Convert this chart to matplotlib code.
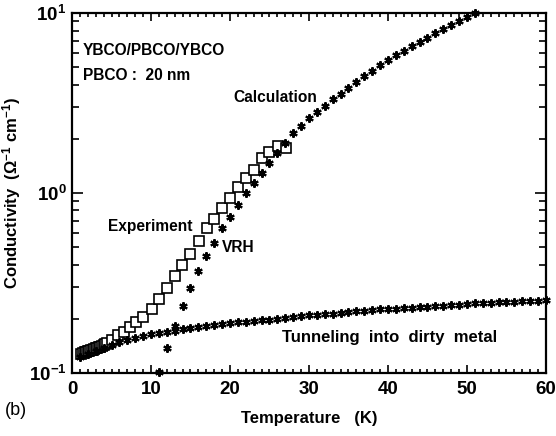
import matplotlib
matplotlib.use("Agg")
import matplotlib.pyplot as plt
from matplotlib.ticker import MultipleLocator, LogLocator, NullFormatter, FixedLocator

plt.rcParams['font.family'] = ['Liberation Sans', 'DejaVu Sans']
plt.rcParams['font.weight'] = 'bold'
plt.rcParams['mathtext.fontset'] = 'custom'
plt.rcParams['mathtext.rm'] = 'Liberation Sans:bold'
plt.rcParams['mathtext.it'] = 'Liberation Sans:bold'
plt.rcParams['mathtext.bf'] = 'Liberation Sans:bold'

# Measured conductivity (open squares)
exp_T = [1.2, 1.4, 1.6, 1.8, 2.0, 2.2, 2.4, 2.6, 2.8, 3.0, 3.2, 3.4, 3.6, 3.8, 4.0, 4.2, 4.4,
         5.1, 5.8, 6.6, 7.3, 8.1, 9.0, 10.1, 11.0, 12.0, 13.0, 13.9, 14.9, 16.1, 17.1,
         18.0, 19.0, 20.0, 21.0, 22.0, 23.0, 24.0, 25.0, 26.1, 27.1]
exp_sigma = [0.128, 0.129, 0.130, 0.131, 0.132, 0.133, 0.134, 0.135, 0.136, 0.137, 0.138,
             0.139, 0.140, 0.142, 0.143, 0.145, 0.147,
             0.153, 0.163, 0.169, 0.180, 0.192, 0.205, 0.227, 0.258, 0.297, 0.346, 0.40,
             0.46, 0.54, 0.64, 0.72, 0.83, 0.94, 1.08, 1.21, 1.34, 1.56, 1.69, 1.82, 1.78]

# Variable-range-hopping calculation
vrh_T = list(range(11, 52))
vrh_sigma = [0.101, 0.138, 0.182, 0.236, 0.297, 0.369, 0.447, 0.53, 0.64, 0.735, 0.857,
             1.0, 1.14, 1.29, 1.47, 1.66, 1.90, 2.16, 2.37, 2.60, 2.82, 3.05, 3.31, 3.57,
             3.85, 4.14, 4.47, 4.79, 5.13, 5.47, 5.82, 6.17, 6.53, 6.92, 7.28, 7.71, 8.13,
             8.57, 9.02, 9.48, 9.95]

# Tunneling into dirty metal calculation
tun_T = list(range(1, 61))
tun_sigma = [0.123, 0.128, 0.133, 0.138, 0.143, 0.149, 0.153, 0.157, 0.161, 0.164,
             0.167, 0.169, 0.172, 0.176, 0.178, 0.180, 0.182, 0.185, 0.187, 0.190,
             0.191, 0.192, 0.195, 0.197, 0.198, 0.200, 0.202, 0.205, 0.208, 0.209,
             0.210, 0.213, 0.214, 0.216, 0.218, 0.220, 0.221, 0.224, 0.226, 0.227,
             0.228, 0.230, 0.231, 0.233, 0.234, 0.236, 0.237, 0.239, 0.240, 0.242,
             0.244, 0.245, 0.245, 0.247, 0.248, 0.248, 0.250, 0.252, 0.252, 0.253]

fig = plt.figure(figsize=(5.56, 4.36), dpi=100)
ax = fig.add_axes([0.1295, 0.1445, 0.8525, 0.8255])

ax.plot(exp_T, exp_sigma, linestyle='none', marker='s', markersize=7.5,
        markerfacecolor='white', markeredgecolor='black', markeredgewidth=1.2, zorder=3)
star = (6, 2, 0)
ax.plot(vrh_T, vrh_sigma, linestyle='none', marker=star, markersize=6,
        color='black', markeredgewidth=1.5, zorder=4, clip_on=False)
ax.plot(tun_T, tun_sigma, linestyle='none', marker=star, markersize=6,
        color='black', markeredgewidth=1.5, zorder=4, clip_on=False)

ax.set_yscale('log')
ax.set_xlim(0, 60)
ax.set_ylim(0.1, 10)

ax.xaxis.set_major_locator(MultipleLocator(10))
ax.xaxis.set_minor_locator(MultipleLocator(1))
ax.yaxis.set_major_locator(FixedLocator([0.1, 1, 10]))
ax.yaxis.set_minor_locator(LogLocator(base=10, subs=range(2, 10)))
ax.yaxis.set_minor_formatter(NullFormatter())
ax.set_yticklabels([r'$10^{-1}$', r'$10^{0}$', r'$10^{1}$'])

ax.tick_params(which='both', direction='in', top=True, right=True,
               width=1.2, labelsize=13.5)
ax.tick_params(axis='x', which='major', length=6, pad=6)
ax.tick_params(axis='x', which='minor', length=3)
ax.tick_params(axis='y', which='major', length=8, pad=4)
ax.tick_params(axis='y', which='minor', length=5)
for s in ax.spines.values():
    s.set_linewidth(1.6)

ax.set_xlabel('Temperature   (K)', fontsize=12, fontweight='bold', labelpad=9)
ax.set_ylabel(r'Conductivity  ($\Omega^{-1}$ cm$^{-1}$)', fontsize=12,
              fontweight='bold', labelpad=4)

fs = 11.2
ax.text(1.4, 6.2, 'YBCO/PBCO/YBCO', fontsize=fs, fontweight='bold', va='center')
ax.text(1.4, 4.5, 'PBCO :  20 nm', fontsize=fs, fontweight='bold', va='center')
ax.text(31.0, 3.4, 'Calculation', fontsize=fs, fontweight='bold', va='center', ha='right')
ax.text(15.3, 0.655, 'Experiment', fontsize=fs, fontweight='bold', va='center', ha='right')
ax.text(19.0, 0.50, 'VRH', fontsize=fs, fontweight='bold', va='center')
ax.text(26.6, 0.158, 'Tunneling  into  dirty  metal', fontsize=12,
        fontweight='bold', va='center')
fig.text(0.009, 0.058, '(b)', fontsize=13, fontweight='normal', va='center')

fig.savefig('out.png', dpi=100)
